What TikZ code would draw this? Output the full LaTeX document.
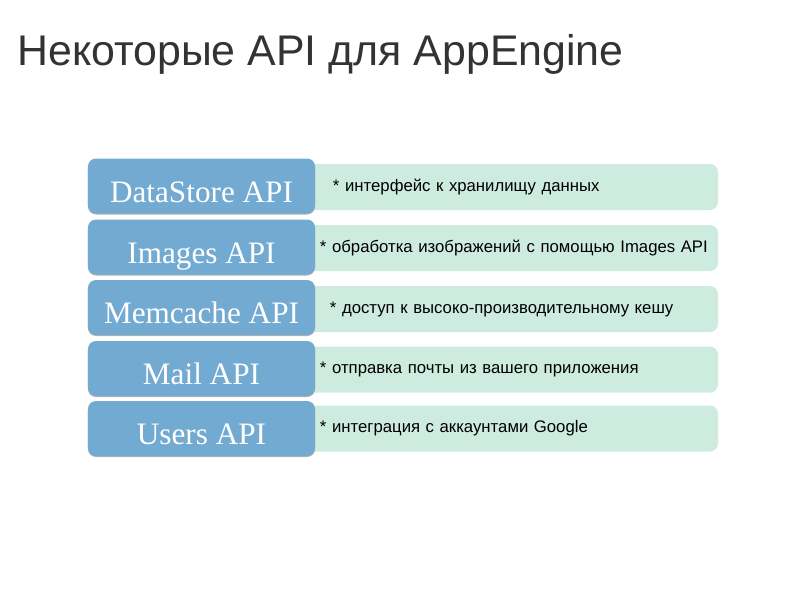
\documentclass[tikz,border=0pt]{standalone}
\usepackage{fontspec}
\setmainfont{Liberation Sans}
\newfontfamily\apiserif{Liberation Serif}
\usepackage{xcolor}
\usetikzlibrary{positioning,shadows}
\definecolor{apiblue}{HTML}{72AAD2}
\definecolor{descgreen}{HTML}{CEEBE0}
\definecolor{titlegray}{HTML}{333333}

\begin{document}
\begin{tikzpicture}[x=0.25mm, y=-0.25mm,
  api/.style={fill=apiblue, rounded corners=2mm, minimum width=56.75mm,
              minimum height=13.75mm, inner sep=0pt, text=white,
              text height=8mm, text depth=0pt,
              general shadow={fill=black!30, shadow yshift=-0.25mm},
              font=\apiserif\fontsize{22.2}{24}\selectfont},
  desc/.style={fill=descgreen, rounded corners=2mm, minimum width=103.25mm,
               minimum height=11.5mm, inner sep=0pt,
               text width=103.25mm, align=left,
               execute at begin node={\hspace*{3.75mm}},
               font=\fontsize{11.9}{14}\selectfont}]
\useasboundingbox (0,0) rectangle (800,600);
\node[anchor=base west, text=titlegray, inner sep=0pt,
      font=\fontsize{30.5}{34}\selectfont] (title) at (17,65)
  {Некоторые API для AppEngine};
% descriptions (behind)
\node[desc] (dsd) at (511.5,187) {\hspace*{3.25mm}* интерфейс к хранилищу данных};
\node[desc] (imgd) at (511.5,248) {* обработка изображений с помощью Images API};
\node[desc] (mcd) at (511.5,309) {\hspace*{2.5mm}* доступ к высоко-производительному кешу};
\node[desc] (maild) at (511.5,369.5) {* отправка почты из вашего приложения};
\node[desc] (usersd) at (511.5,428.5) {* интеграция с аккаунтами Google};
% api boxes
\node[api] (ds) at (201.5,186) {DataStore API};
\node[api] (img) at (201.5,247) {Images API};
\node[api] (mc) at (201.5,307.5) {Memcache API};
\node[api] (mail) at (201.5,368.5) {Mail API};
\node[api] (users) at (201.5,428.5) {Users API};
\end{tikzpicture}
\end{document}
